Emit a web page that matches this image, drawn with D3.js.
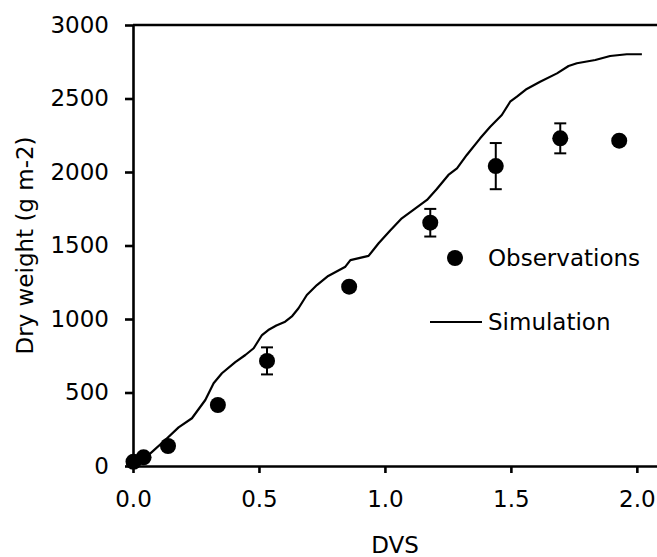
<!DOCTYPE html>
<html>
<head>
<meta charset="utf-8">
<script src="https://cdnjs.cloudflare.com/ajax/libs/d3/7.8.5/d3.min.js"></script>
<style>
  body { margin: 0; background: #fff; }
  svg text { font-family: "DejaVu Sans", Verdana, sans-serif; fill: #000; }
</style>
</head>
<body>
<div id="chart-area"></div>
<script>
// observed dry weight, with standard deviation where one was shown
var obsDvs    = [0.002, 0.042, 0.139, 0.337, 0.532, 0.858, 1.180, 1.440, 1.696, 1.930];
var obsWeight = [29, 59, 136, 415, 715, 1220, 1655, 2040, 2229, 2213];
var obsSd     = [null, null, null, null, 92, null, 94, 157, 102, null];

// simulated curve
var simDvs = [0.0, 0.069, 0.128, 0.181, 0.234, 0.287, 0.320, 0.353, 0.406, 0.446,
              0.479, 0.512, 0.537, 0.569, 0.604, 0.632, 0.657, 0.690, 0.730, 0.775,
              0.843, 0.863, 0.935, 0.975, 1.021, 1.067, 1.113, 1.167, 1.206, 1.252,
              1.286, 1.325, 1.378, 1.418, 1.464, 1.497, 1.524, 1.563, 1.616, 1.683,
              1.729, 1.762, 1.835, 1.894, 1.960, 2.020];
var simWeight = [10, 86, 177, 263, 325, 449, 563, 631, 707, 755,
                 801, 891, 925, 956, 982, 1020, 1073, 1163, 1231, 1293,
                 1356, 1401, 1429, 1515, 1602, 1685, 1742, 1810, 1884, 1980,
                 2025, 2116, 2229, 2308, 2388, 2478, 2512, 2565, 2614, 2671,
                 2721, 2740, 2762, 2789, 2801, 2801];

var xTicks = [0, 0.5, 1.0, 1.5, 2.0];
var yTicks = [0, 500, 1000, 1500, 2000, 2500, 3000];

var margin = { left: 133, right: 0, top: 25, bottom: 91 };
var width = 657 - margin.left - margin.right,
    height = 557 - margin.top - margin.bottom;

var svg = d3.select("#chart-area")
    .append("svg")
        .attr("width", 657)
        .attr("height", 557);

var g = svg.append("g")
    .attr("transform", "translate(" + margin.left + ", " + margin.top + ")");

var x = d3.scaleLinear()
    .domain([0, 2.08])
    .range([0, width]);

var y = d3.scaleLinear()
    .domain([0, 3000])
    .range([height, 0]);

// top border line
g.append("line")
    .attr("x1", 0)
    .attr("x2", width)
    .attr("y1", y(3000))
    .attr("y2", y(3000))
    .attr("stroke", "#000")
    .attr("stroke-width", 2.6);

// X Axis
var xAxisCall = d3.axisBottom(x)
    .tickValues(xTicks)
    .tickFormat(d3.format(".1f"))
    .tickSize(7)
    .tickPadding(18)
    .tickSizeOuter(0);
var xAxisGroup = g.append("g")
    .attr("class", "x axis")
    .attr("transform", "translate(0," + height + ")")
    .call(xAxisCall);

// Y Axis
var yAxisCall = d3.axisLeft(y)
    .tickValues(yTicks)
    .tickFormat(d3.format("d"))
    .tickSize(8)
    .tickPadding(16)
    .tickSizeOuter(0);
var yAxisGroup = g.append("g")
    .attr("class", "y axis")
    .call(yAxisCall);

g.selectAll(".axis path, .axis line")
    .attr("stroke", "#000")
    .attr("stroke-width", 2.6);
g.selectAll(".axis text")
    .attr("font-size", "23px")
    .attr("font-family", "DejaVu Sans, Verdana, sans-serif");

// X Label
g.append("text")
    .attr("x", width / 2)
    .attr("y", height + 87)
    .attr("font-size", "23px")
    .attr("text-anchor", "middle")
    .text("DVS");

// Y Label
g.append("text")
    .attr("x", -(height / 2))
    .attr("y", 33)
    .attr("transform", "translate(" + (-margin.left) + ",0) rotate(-90)")
    .attr("font-size", "23px")
    .attr("text-anchor", "middle")
    .text("Dry weight (g m-2)");

// simulation line
var simData = simDvs.map(function(d, i) { return { dvs: d, w: simWeight[i] }; });
var line = d3.line()
    .x(function(d) { return x(d.dvs); })
    .y(function(d) { return y(d.w); });

g.append("path")
    .datum(simData)
    .attr("d", line)
    .attr("fill", "none")
    .attr("stroke", "#000")
    .attr("stroke-width", 2.2)
    .attr("stroke-linejoin", "round");

// observations
var obsData = obsDvs.map(function(d, i) {
    return { dvs: d, w: obsWeight[i], sd: obsSd[i] };
});

var errs = g.selectAll(".err")
    .data(obsData.filter(function(d) { return d.sd != null; }))
    .enter().append("g")
        .attr("class", "err")
        .attr("stroke", "#000")
        .attr("stroke-width", 2);

errs.append("line")
    .attr("x1", function(d) { return x(d.dvs); })
    .attr("x2", function(d) { return x(d.dvs); })
    .attr("y1", function(d) { return y(d.w - d.sd); })
    .attr("y2", function(d) { return y(d.w + d.sd); });
errs.append("line")
    .attr("x1", function(d) { return x(d.dvs) - 6; })
    .attr("x2", function(d) { return x(d.dvs) + 6; })
    .attr("y1", function(d) { return y(d.w + d.sd); })
    .attr("y2", function(d) { return y(d.w + d.sd); });
errs.append("line")
    .attr("x1", function(d) { return x(d.dvs) - 6; })
    .attr("x2", function(d) { return x(d.dvs) + 6; })
    .attr("y1", function(d) { return y(d.w - d.sd); })
    .attr("y2", function(d) { return y(d.w - d.sd); });

g.selectAll(".obs")
    .data(obsData)
    .enter().append("circle")
        .attr("class", "obs")
        .attr("cx", function(d) { return x(d.dvs); })
        .attr("cy", function(d) { return y(d.w); })
        .attr("r", 8)
        .attr("fill", "#000");

// legend
var legend = svg.append("g");
legend.append("circle")
    .attr("cx", 455)
    .attr("cy", 258)
    .attr("r", 8)
    .attr("fill", "#000");
legend.append("text")
    .attr("x", 488)
    .attr("y", 258)
    .attr("dy", "0.35em")
    .attr("font-size", "23px")
    .text("Observations");
legend.append("line")
    .attr("x1", 430)
    .attr("x2", 482)
    .attr("y1", 322)
    .attr("y2", 322)
    .attr("stroke", "#000")
    .attr("stroke-width", 2.2);
legend.append("text")
    .attr("x", 488)
    .attr("y", 322)
    .attr("dy", "0.35em")
    .attr("font-size", "23px")
    .text("Simulation");
</script>
</body>
</html>
